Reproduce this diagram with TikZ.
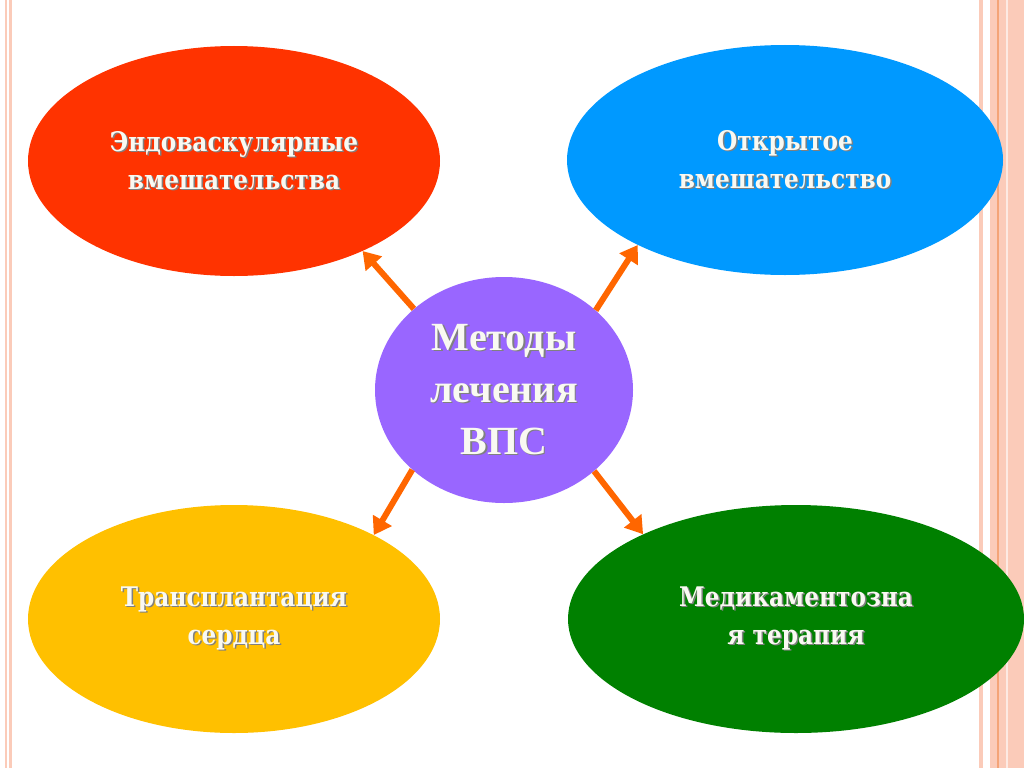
\documentclass[tikz,border=0pt]{standalone}
\usepackage{fontspec}
\usepackage{xcolor}
\usetikzlibrary{shapes.geometric,arrows.meta}
\newfontfamily\bloblabel{DejaVu Serif}[FakeStretch=0.86]
\newfontfamily\midlabel{Liberation Serif}
\definecolor{endored}{HTML}{FF3300}
\definecolor{openblue}{HTML}{0099FF}
\definecolor{transyellow}{HTML}{FFC000}
\definecolor{medgreen}{HTML}{008000}
\definecolor{midviolet}{HTML}{9966FF}
\definecolor{arrorange}{HTML}{FF6600}
\definecolor{edgepink}{HTML}{FBCBB9}
\definecolor{edgeline}{HTML}{F4A478}
\definecolor{labelwhite}{HTML}{F9F9F2}
% text with a soft dark shadow
\newcommand\shd[1]{\leavevmode\rlap{\kern1.5pt\raisebox{-1.5pt}{\textcolor{black!50}{#1}}}#1}
\tikzset{
  blob/.style={ellipse, inner sep=0pt, text=labelwhite, align=center,
    font=\bloblabel\bfseries\fontsize{27}{38}\selectfont},
  mid/.style={ellipse, inner sep=0pt, text=labelwhite, align=center,
    font=\midlabel\bfseries\fontsize{40}{52}\selectfont},
  arr/.style={draw=arrorange, line width=6pt,
    -{Triangle[length=17pt,width=21pt]}},
}
\begin{document}
\begin{tikzpicture}[x=1pt,y=-1pt]
    \useasboundingbox (0,0) rectangle (1024,768);
    \fill[white] (0,0) rectangle (1024,768);
    % frame stripes
    \fill[edgepink] (5,0) rectangle (7,768);
    \fill[edgepink] (8.5,0) rectangle (12,768);
    \fill[edgepink] (979,0) rectangle (983,768);
    \fill[edgepink] (990,0) rectangle (1024,768);
    \fill[edgeline] (997,0) rectangle (999,768);
    \fill[white!60!edgepink] (1006,0) rectangle (1008,768);

    \node[blob, fill=endored, minimum width=412pt, minimum height=230pt] (endo) at (234,161)
      {\shd{Эндоваскулярные}\\ \shd{вмешательства}};
    \node[blob, fill=openblue, minimum width=436pt, minimum height=230pt] (open) at (785,160)
      {\shd{Открытое}\\ \shd{вмешательство}};
    \node[blob, fill=transyellow, minimum width=412pt, minimum height=228pt] (transpl) at (234,619)
      {\shd{Трансплантация}\\ \shd{сердца}};
    \node[blob, fill=medgreen, minimum width=456pt, minimum height=228pt] (medic) at (796,619)
      {\shd{Медикаментозна}\\ \shd{я терапия}};
    \node[mid, fill=midviolet, minimum width=258pt, minimum height=226pt] (metody) at (504,390)
      {\shd{Методы}\\ \shd{лечения}\\ \shd{ВПС}};

    \draw[arr] (metody.138.7) -- (endo.-35);
    \draw[arr] (metody.41.3) -- (open.210);
    \draw[arr] (metody.221) -- (transpl.31);
    \draw[arr] (metody.318.7) -- (medic.151);
\end{tikzpicture}
\end{document}
